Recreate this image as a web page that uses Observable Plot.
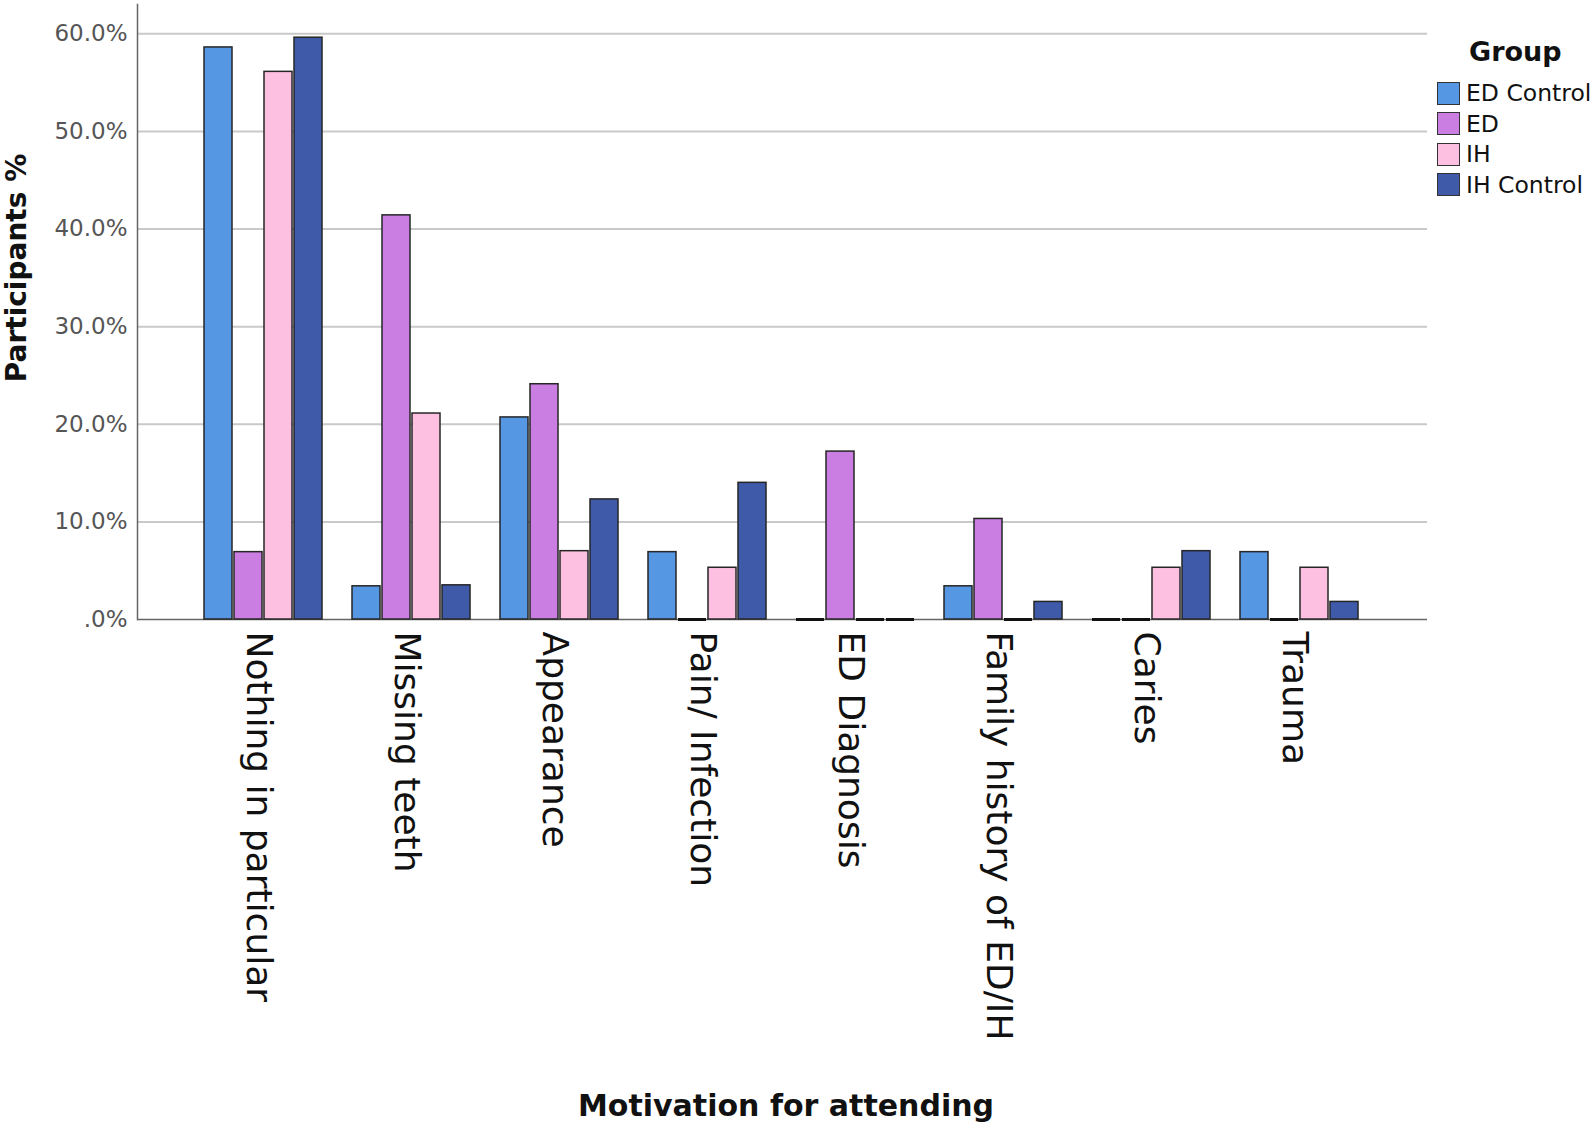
<!DOCTYPE html>
<html>
<head>
<meta charset="utf-8">
<script src="https://cdn.jsdelivr.net/npm/d3@7"></script>
<script src="https://cdn.jsdelivr.net/npm/@observablehq/plot@0.6"></script>
<style>
  html, body { margin: 0; padding: 0; background: #fff; }
  #wrap { position: relative; width: 1593px; height: 1128px; font-family: "DejaVu Sans", sans-serif; }
  #base, #bars { position: absolute; left: 0; top: 0; }
  #ytitle { position: absolute; left: 16px; top: 268px; transform: translate(-50%, -50%) rotate(-90deg); font-weight: bold; font-size: 28px; white-space: nowrap; color: #111; }
  #xtitle { position: absolute; left: 786px; top: 1105px; transform: translate(-50%, -50%); font-weight: bold; font-size: 30px; white-space: nowrap; color: #111; }
  #legend { position: absolute; left: 1437px; top: 39px; color: #111; }
  #legend .title { font-weight: bold; font-size: 27px; margin-left: 32px; margin-bottom: 11px; margin-top: -3px; }
  #legend .item { display: flex; align-items: center; height: 30.5px; font-size: 23.5px; white-space: nowrap; }
  #legend .sw { width: 21px; height: 21px; border: 1.5px solid #333; margin-right: 6px; box-sizing: content-box; }
</style>
</head>
<body>
<div id="wrap">
  <div id="base"></div>
  <div id="bars"></div>
  <div id="ytitle">Participants %</div>
  <div id="xtitle">Motivation for attending</div>
  <div id="legend"></div>
</div>
<script>
const categories = ["Nothing in particular", "Missing teeth", "Appearance", "Pain/ Infection", "ED Diagnosis", "Family history of ED/IH", "Caries", "Trauma"];
const groups = ["ED Control", "ED", "IH", "IH Control"];
const colors = ["#5597e2", "#ca7ee2", "#fec0e0", "#3e5aa8"];
const edControl = [58.6, 3.4, 20.7, 6.9, 0, 3.4, 0, 6.9];
const ed = [6.9, 41.4, 24.1, 0, 17.2, 10.3, 0, 0];
const ih = [56.1, 21.1, 7.0, 5.3, 0, 0, 5.3, 5.3];
const ihControl = [59.6, 3.5, 12.3, 14.0, 0, 1.8, 7.0, 1.8];
const yTicks = [0, 10, 20, 30, 40, 50, 60];

const series = [edControl, ed, ih, ihControl];
const data = categories.flatMap((c, i) => groups.map((g, j) => ({category: c, group: g, value: series[j][i]})));

const fmt = d => d === 0 ? ".0%" : d.toFixed(1) + "%";

const common = {
  width: 1593,
  height: 1128,
  marginLeft: 137,
  marginRight: 166,
  marginTop: 4,
  marginBottom: 509,
  y: {domain: [0, 63]}
};

// Layer 1: grid, y axis and axis lines across the whole frame
const base = Plot.plot({
  ...common,
  style: {fontFamily: "DejaVu Sans", background: "white", color: "#111"},
  marks: [
    Plot.ruleY(yTicks.filter(t => t > 0), {stroke: "#c9c9c9", strokeWidth: 2}),
    Plot.axisY({ticks: yTicks, tickFormat: fmt, tickSize: 0, tickPadding: 10, fontSize: 23, fill: "#555", label: null}),
    Plot.ruleY([0], {stroke: "#666", strokeWidth: 1.5}),
    Plot.frame({anchor: "left", stroke: "#666", strokeWidth: 1.5})
  ]
});
document.getElementById("base").appendChild(base);

// Layer 2: grouped bars (faceted by category) and category labels
const bars = Plot.plot({
  ...common,
  style: {fontFamily: "DejaVu Sans", background: "transparent", color: "#111"},
  fx: {domain: categories, paddingInner: 0.18, paddingOuter: 0.43, label: null},
  x: {domain: groups, paddingInner: 0.06, paddingOuter: 0, axis: null},
  y: {domain: [0, 63], axis: null},
  color: {domain: groups, range: colors},
  marks: [
    Plot.axisFx({anchor: "bottom", tickRotate: 90, fontSize: 36, tickSize: 0, tickPadding: 12, dx: -5, label: null, fill: "#111"}),
    Plot.barY(data, {fx: "category", x: "group", y: "value", fill: "group", stroke: "#262626", strokeWidth: 1.5}),
    Plot.tickY(data.filter(d => d.value === 0), {fx: "category", x: "group", y: "value", stroke: "#111", strokeWidth: 3})
  ]
});
document.getElementById("bars").appendChild(bars);

const legend = document.getElementById("legend");
legend.innerHTML = '<div class="title">Group</div>' + groups.map((g, i) =>
  `<div class="item"><div class="sw" style="background:${colors[i]}"></div>${g}</div>`).join("");
</script>
</body>
</html>
